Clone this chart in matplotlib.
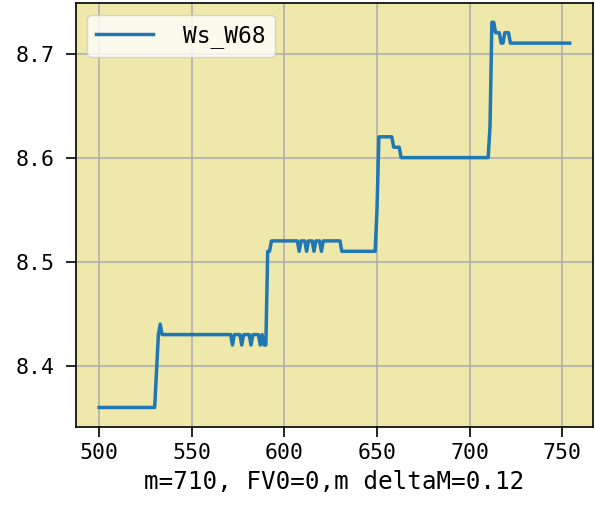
import matplotlib
matplotlib.use("Agg")
import matplotlib.pyplot as plt

# vertices of the Ws_W68 trace
x = [500, 530, 532, 533, 534,
     571, 572, 573, 576, 577, 578, 581, 582, 583, 586, 587, 588, 589, 590,
     591, 592, 593,
     607, 608, 609, 611, 612, 613, 615, 616, 617, 619, 620, 621, 630, 631, 649,
     650, 651, 658, 659, 662, 663, 710,
     711, 712, 713, 714, 716, 717, 718, 719, 721, 722, 754]
y = [8.36, 8.36, 8.43, 8.44, 8.43,
     8.43, 8.42, 8.43, 8.43, 8.42, 8.43, 8.43, 8.42, 8.43, 8.43, 8.42, 8.43, 8.42, 8.42,
     8.51, 8.51, 8.52,
     8.52, 8.51, 8.52, 8.52, 8.51, 8.52, 8.52, 8.51, 8.52, 8.52, 8.51, 8.52, 8.52, 8.51, 8.51,
     8.55, 8.62, 8.62, 8.61, 8.61, 8.60, 8.60,
     8.63, 8.73, 8.73, 8.72, 8.72, 8.71, 8.71, 8.72, 8.72, 8.71, 8.71]
label = "Ws_W68"
xlabel = "m=710, FV0=0,m deltaM=0.12"

plt.rcParams['font.family'] = ['DejaVu Sans Mono', 'DejaVu Sans']

fig = plt.figure(figsize=(5.95, 5.08), dpi=100)
ax = fig.add_axes([0.127, 0.16, 0.87, 0.834])
ax.set_facecolor('palegoldenrod')

ax.plot(x, y, color='#1f77b4', linewidth=2.5, label=label)
ax.grid(True, color='#b0b0b0', linewidth=1.2)
ax.set_axisbelow(True)

ax.set_xticks([500, 550, 600, 650, 700, 750])
ax.set_yticks([8.4, 8.5, 8.6, 8.7])
ax.tick_params(labelsize=15.5, length=7, width=1.2)
ax.tick_params(axis='y', pad=8)
ax.tick_params(axis='x', pad=5)
for s in ax.spines.values():
    s.set_linewidth(1.2)

ax.set_xlabel(xlabel, fontsize=17.5, labelpad=5)
ax.legend(loc='upper left', fontsize=16.5, handlelength=2.5, handletextpad=1.3,
          facecolor='white', framealpha=0.8)

fig.savefig('out.png', dpi=100)
